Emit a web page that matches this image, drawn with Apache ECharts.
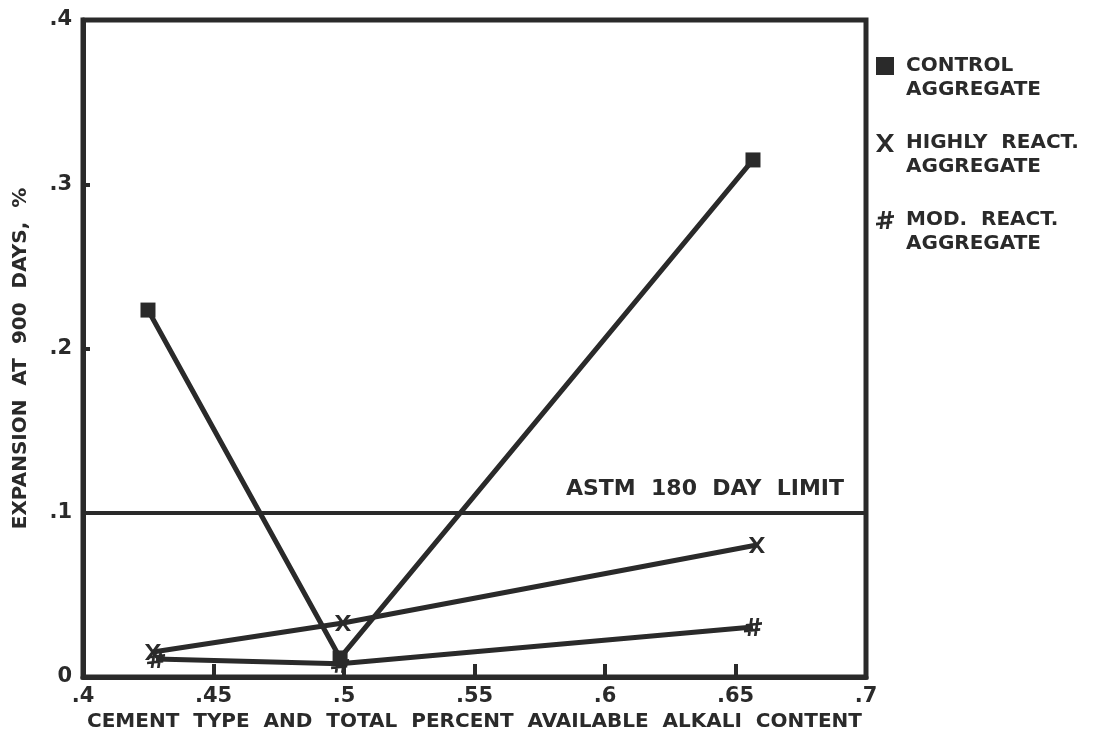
<!DOCTYPE html>
<html>
<head>
<meta charset="utf-8">
<script src="https://cdn.jsdelivr.net/npm/echarts@6/dist/echarts.min.js"></script>
<style>
html,body{margin:0;padding:0;background:#fff;}
#chart{width:1118px;height:755px;}
</style>
</head>
<body>
<div id="chart"></div>
<script>
// ---- data ----
var seriesNames = ['CONTROL AGGREGATE', 'HIGHLY REACT. AGGREGATE', 'MOD. REACT. AGGREGATE'];
var legendLines = {
  'CONTROL AGGREGATE': ['CONTROL', 'AGGREGATE'],
  'HIGHLY REACT. AGGREGATE': ['HIGHLY  REACT.', 'AGGREGATE'],
  'MOD. REACT. AGGREGATE': ['MOD.  REACT.', 'AGGREGATE']
};
var controlData = [[0.4249, 0.2234], [0.4985, 0.0116], [0.6567, 0.3148]];
var highlyData  = [[0.4268, 0.0152], [0.4996, 0.0329], [0.6582, 0.0804]];
var modData     = [[0.4280, 0.0110], [0.4985, 0.0080], [0.6567, 0.0304]];
var astmLimit = 0.1;
var astmLabel = 'ASTM  180  DAY  LIMIT';
var xTitle = 'CEMENT  TYPE  AND  TOTAL  PERCENT  AVAILABLE  ALKALI  CONTENT';
var yTitle = 'EXPANSION  AT  900  DAYS,  %';

// ---- style ----
var ink = '#2a2a2a';
var font = '"DejaVu Sans", "Liberation Sans", Arial, sans-serif';
var squarePath = 'path://M0,0 L10,0 L10,10 L0,10 Z';
var xPath = 'path://M0,0 L5,0 L10,7 L15,0 L20,0 L12.5,10 L20,20 L15,20 L10,13 L5,20 L0,20 L7.5,10 Z';
var hashPath = 'path://M7,0 L10,0 L7,20 L4,20 Z M14,0 L17,0 L14,20 L11,20 Z M2,6.5 L20,4.5 L20,7.5 L2,9.5 Z M0,13 L18,11 L18,14 L0,16 Z';

function fmt(v) {
  var r = Math.round(v * 100) / 100;
  return String(r).replace(/^0\./, '.');
}

var chart = echarts.init(document.getElementById('chart'));
chart.setOption({
  backgroundColor: '#fff',
  animation: false,
  textStyle: { fontFamily: font },
  grid: {
    left: 83, right: 252, top: 20, bottom: 78,
    show: true, borderColor: ink, borderWidth: 5, backgroundColor: 'transparent'
  },
  legend: {
    orient: 'vertical',
    left: 876, top: 30,
    padding: 0,
    itemWidth: 32, itemHeight: 18,
    itemGap: 5,
    selectedMode: false,
    textStyle: {
      fontFamily: font, fontSize: 20, fontWeight: 'bold', color: ink,
      lineHeight: 24
    },
    formatter: function (n) { return '\n' + legendLines[n].join('\n'); },
    data: [
      { name: seriesNames[0], icon: squarePath },
      { name: seriesNames[1], icon: xPath },
      { name: seriesNames[2], icon: hashPath }
    ]
  },
  xAxis: {
    type: 'value', min: 0.4, max: 0.7, interval: 0.05,
    name: xTitle, nameLocation: 'middle', nameGap: 30,
    nameTextStyle: { fontFamily: font, fontSize: 20, fontWeight: 'bold', color: ink },
    axisLine: { show: true, lineStyle: { color: ink, width: 5 } },
    axisTick: { show: true, inside: true, length: 13, lineStyle: { color: ink, width: 4 } },
    splitLine: { show: false },
    axisLabel: { formatter: fmt, fontFamily: font, fontSize: 21, fontWeight: 'bold', color: ink, margin: 9 }
  },
  yAxis: {
    type: 'value', min: 0, max: 0.4, interval: 0.1,
    name: yTitle, nameLocation: 'middle', nameGap: 52,
    nameTextStyle: { fontFamily: font, fontSize: 20, fontWeight: 'bold', color: ink, padding: [0, 20, 0, 0] },
    axisLine: { show: true, lineStyle: { color: ink, width: 5 } },
    axisTick: { show: true, inside: true, length: 7, lineStyle: { color: ink, width: 4 } },
    splitLine: { show: false },
    axisLabel: { formatter: fmt, fontFamily: font, fontSize: 21, fontWeight: 'bold', color: ink, margin: 11 }
  },
  series: [
    {
      name: seriesNames[0], type: 'line', data: controlData,
      symbol: 'rect', symbolSize: 15,
      lineStyle: { color: ink, width: 5 },
      itemStyle: { color: ink, borderWidth: 0 },
      markLine: {
        silent: true, symbol: 'none',
        lineStyle: { color: ink, width: 4, type: 'solid' },
        label: {
          show: true, position: 'insideEndTop', distance: [22, 12],
          formatter: astmLabel,
          fontFamily: font, fontSize: 22, fontWeight: 'bold', color: ink
        },
        data: [{ yAxis: astmLimit }]
      },
      z: 3
    },
    {
      name: seriesNames[1], type: 'line', data: highlyData,
      symbol: xPath, symbolSize: 16,
      lineStyle: { color: ink, width: 5 },
      itemStyle: { color: ink, borderWidth: 0 },
      z: 2
    },
    {
      name: seriesNames[2], type: 'line', data: modData,
      symbol: hashPath, symbolSize: 18,
      lineStyle: { color: ink, width: 5 },
      itemStyle: { color: ink, borderWidth: 0 },
      z: 2
    }
  ]
});
</script>
</body>
</html>
